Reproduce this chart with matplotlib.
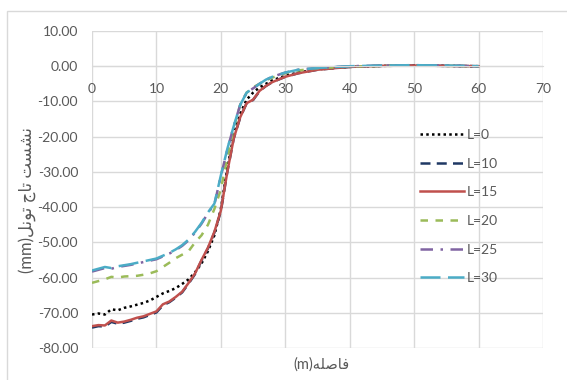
import matplotlib
matplotlib.use('Agg')
import matplotlib.pyplot as plt
from matplotlib.patches import Rectangle
from matplotlib.ticker import FormatStrFormatter, MultipleLocator

# distance along the tunnel (m)
x = [0, 1, 2, 3, 4, 5, 6, 7, 8, 9, 10, 11, 12, 13, 14, 15, 16, 17, 18, 19,
     20, 21, 22, 23, 24, 25, 26, 27, 28, 30, 32, 35, 38, 40, 45, 50, 55, 60]

# crown settlement (mm) for each case
l0 = [-70.5, -70.2, -70.5, -69.0, -69.3, -68.6, -68.2, -67.7, -67.2, -66.5,
      -65.5, -64.5, -63.8, -63.0, -61.8, -60.5, -58.5, -56.0, -52.5, -48.0,
      -40.5, -29.0, -19.5, -13.5, -9.5, -7.5, -6.0, -5.0, -4.0, -2.7,
      -1.8, -0.9, -0.4, -0.2, 0.1, 0.2, 0.1, 0.0]
l10 = [-74.2, -73.8, -73.9, -72.6, -73.1, -72.8, -72.3, -71.7, -71.3, -70.6,
       -69.9, -67.9, -67.0, -65.7, -64.2, -61.7, -59.0, -55.2, -51.7, -47.2,
       -41.2, -30.0, -20.5, -14.6, -10.5, -9.6, -7.1, -5.6, -4.5, -3.0,
       -2.0, -1.0, -0.5, -0.2, 0.1, 0.2, 0.1, 0.0]
l15 = [-73.8, -73.5, -73.6, -72.2, -72.8, -72.5, -72.0, -71.4, -71.0, -70.3,
       -69.6, -67.6, -66.8, -65.5, -64.0, -61.5, -58.8, -55.0, -51.5, -47.0,
       -41.0, -30.0, -20.5, -14.5, -10.5, -9.5, -7.0, -5.6, -4.5, -3.0,
       -2.0, -1.0, -0.5, -0.2, 0.1, 0.2, 0.1, 0.0]
l20 = [-61.5, -61.0, -60.5, -59.8, -60.0, -59.7, -59.6, -59.5, -59.2, -58.8,
       -58.2, -57.0, -55.8, -54.5, -53.5, -52.5, -50.0, -48.0, -45.0, -40.5,
       -35.0, -26.0, -17.5, -11.0, -7.5, -6.0, -5.0, -4.0, -3.2, -2.0,
       -1.2, -0.6, -0.3, -0.1, 0.1, 0.2, 0.1, 0.0]
l25 = [-58.3, -57.8, -57.3, -57.5, -57.0, -56.7, -56.4, -56.0, -55.6, -55.2,
       -54.8, -54.0, -53.2, -52.2, -51.0, -49.4, -47.2, -44.7, -41.7, -39.2,
       -31.2, -23.7, -17.0, -11.0, -7.5, -6.3, -5.0, -3.8, -3.0, -1.8,
       -1.0, -0.5, -0.2, 0.0, 0.2, 0.3, 0.2, 0.0]
l30 = [-58.0, -57.5, -57.0, -57.3, -56.8, -56.5, -56.2, -55.8, -55.4, -55.0,
       -54.6, -53.8, -53.0, -52.0, -50.8, -49.2, -47.0, -44.5, -41.5, -39.0,
       -31.0, -23.5, -17.0, -11.0, -7.5, -6.3, -5.0, -3.8, -3.0, -1.8,
       -1.0, -0.5, -0.2, 0.0, 0.2, 0.3, 0.2, 0.0]

labels = ['L=0', 'L=10', 'L=15', 'L=20', 'L=25', 'L=30']

# Persian labels written in visual (shaped, right-to-left) form
x_title = '(m)' + '\uFEEA\uFEE0\uFEBB\uFE8E\uFED3'
y_title = ('(mm)' + '\uFEDE\uFEE7\uFEEE\uFE97' + ' ' + '\uFE9D\uFE8E\uFE97'
           + ' ' + '\uFE96\uFEB4\uFEB8\uFEE7')

plt.rcParams['font.family'] = ['Lato', 'DejaVu Sans']
gray = '#595959'

fig = plt.figure(figsize=(5.67, 3.80), dpi=100)
fig.patches.append(Rectangle((7 / 567, -0.1), 1.2, 1.1 - 11 / 380,
                             transform=fig.transFigure, fill=False,
                             edgecolor='#d9d9d9', linewidth=1))
ax = fig.add_axes([92 / 567, 1 - 348 / 380, 451 / 567, 317 / 380])

ax.plot(x, l0, color='black', linestyle=(0, (1, 1.3)), linewidth=1.8, label=labels[0])
ax.plot(x, l10, color='#1f3864', linestyle=(0, (4, 2.5)), linewidth=1.8, label=labels[1])
ax.plot(x, l15, color='#c0504d', linestyle='-', linewidth=1.8, label=labels[2])
ax.plot(x, l20, color='#9bbb59', linestyle=(0, (3, 3)), linewidth=1.8, label=labels[3])
ax.plot(x, l25, color='#8064a2', linestyle=(0, (5, 3, 1, 3)), linewidth=1.8, label=labels[4])
ax.plot(x, l30, color='#4bacc6', linestyle=(0, (8, 3)), linewidth=1.8, label=labels[5])

ax.set_xlim(0, 70)
ax.set_ylim(-80, 10)
ax.xaxis.set_major_locator(MultipleLocator(10))
ax.yaxis.set_major_locator(MultipleLocator(10))
ax.yaxis.set_major_formatter(FormatStrFormatter('%.2f'))
ax.grid(True, color='#d9d9d9', linewidth=1)
ax.set_axisbelow(True)

for side in ['top', 'right', 'left']:
    ax.spines[side].set_visible(False)
ax.spines['bottom'].set_position(('data', 0))
ax.spines['bottom'].set_color('#d9d9d9')
ax.tick_params(length=0, labelsize=10, colors=gray)
ax.tick_params(axis='x', pad=12)
ax.tick_params(axis='y', pad=10)

fig.text(321 / 567, 1 - 365 / 380, x_title, ha='center', va='center',
         fontsize=10.5, color=gray)
fig.text(27 / 567, 1 - 200 / 380, y_title, ha='center', va='center',
         rotation=90, fontsize=12, color=gray)

ax.legend(loc='upper left', bbox_to_anchor=(420 / 567, 1 - 129 / 380),
          bbox_transform=fig.transFigure, frameon=False, fontsize=10,
          labelcolor=gray, handlelength=3.2, handletextpad=0.2,
          labelspacing=1.2, borderpad=0, borderaxespad=0)

fig.savefig('out.png', dpi=100)
